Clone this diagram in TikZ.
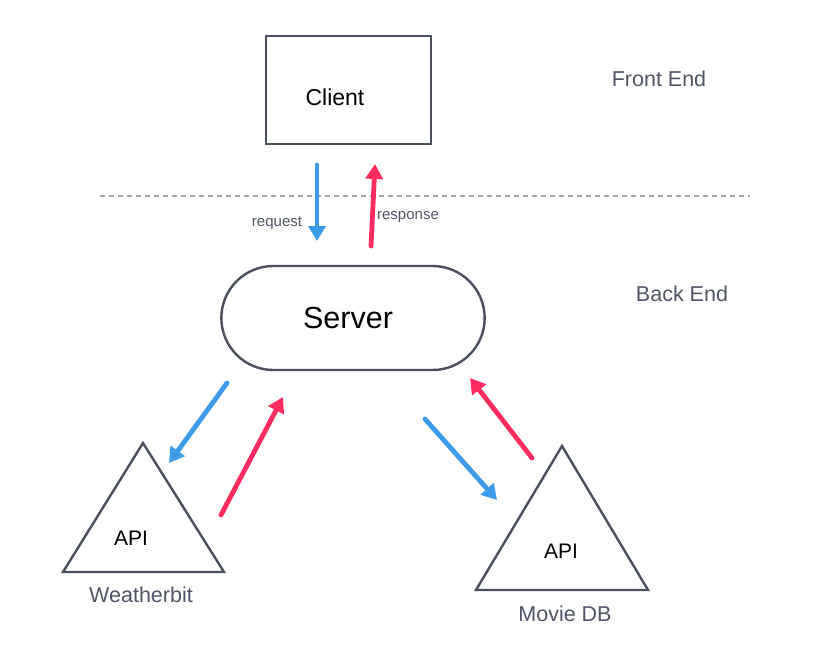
\documentclass[tikz,border=0pt]{standalone}
\usepackage{fontspec}
\setmainfont{Liberation Sans}
\usetikzlibrary{arrows.meta,shapes.misc}
\definecolor{edge}{HTML}{4A4F5E}
\definecolor{lbl}{HTML}{4F5566}
\definecolor{reqblue}{HTML}{3D9BE9}
\definecolor{resred}{HTML}{FF2D5F}
\tikzset{
  box/.style={draw=edge,line width=2.4pt,fill=white},
  side/.style={text=lbl,font=\fontsize{21.5}{24}\selectfont},
  small/.style={text=lbl,font=\fontsize{15}{18}\selectfont},
  req/.style={draw=reqblue,line width=4.8pt,line cap=round,-{Triangle[length=15pt,width=17pt]}},
  res/.style={draw=resred,line width=4.8pt,line cap=round,-{Triangle[length=15pt,width=17pt]}},
  tri/.style={draw=edge,line width=2.4pt,line join=miter},
}
\begin{document}
\begin{tikzpicture}[x=1pt,y=-1pt]
\useasboundingbox (0,0) rectangle (818,647);
% divider
\draw[draw=gray!70,line width=1.2pt,dash pattern=on 5pt off 4pt] (100,196) -- (750,196);
% client
\node[box,minimum width=165pt,minimum height=108pt,anchor=north west] (client) at (265,35) {};
\node[font=\fontsize{23}{26}\selectfont] (clienttxt) at (335,97) {Client};
% server
\node[box,rounded rectangle,minimum width=270pt,minimum height=104pt] (server) at (353,318) {};
\node[font=\fontsize{30.5}{34}\selectfont] (servertxt) at (348,318) {Server};
% side labels
\node[side] (fe) at (659,79) {Front End};
\node[side] (be) at (682,294) {Back End};
% triangles
\draw[tri] (143,443) -- (224,572) -- (63,572) -- cycle;
\node[font=\fontsize{21}{24}\selectfont] (api1) at (131,538) {API};
\node[side] (wb) at (141,595) {Weatherbit};
\draw[tri] (562,446) -- (648,590) -- (476,590) -- cycle;
\node[font=\fontsize{21}{24}\selectfont] (api2) at (561,551) {API};
\node[side] (mdb) at (565,614) {Movie DB};
% arrow end points
\coordinate (c1) at (317,165);
\coordinate (s1) at (317,241);
\coordinate (s2) at (371,246);
\coordinate (c2) at (375,164);
\coordinate (sl1) at (227,383);
\coordinate (al1) at (169,463);
\coordinate (al2) at (221,515);
\coordinate (sl2) at (283,397);
\coordinate (sr1) at (425,419);
\coordinate (ar1) at (497,500);
\coordinate (ar2) at (532,458);
\coordinate (sr2) at (470,378);
\draw[req] (c1) -- (s1);
\draw[res] (s2) -- (c2);
\draw[req] (sl1) -- (al1);
\draw[res] (al2) -- (sl2);
\draw[req] (sr1) -- (ar1);
\draw[res] (ar2) -- (sr2);
\node[small] (reqlbl) at (277,223) {request};
\node[small] (reslbl) at (408,217) {response};
\end{tikzpicture}
\end{document}
